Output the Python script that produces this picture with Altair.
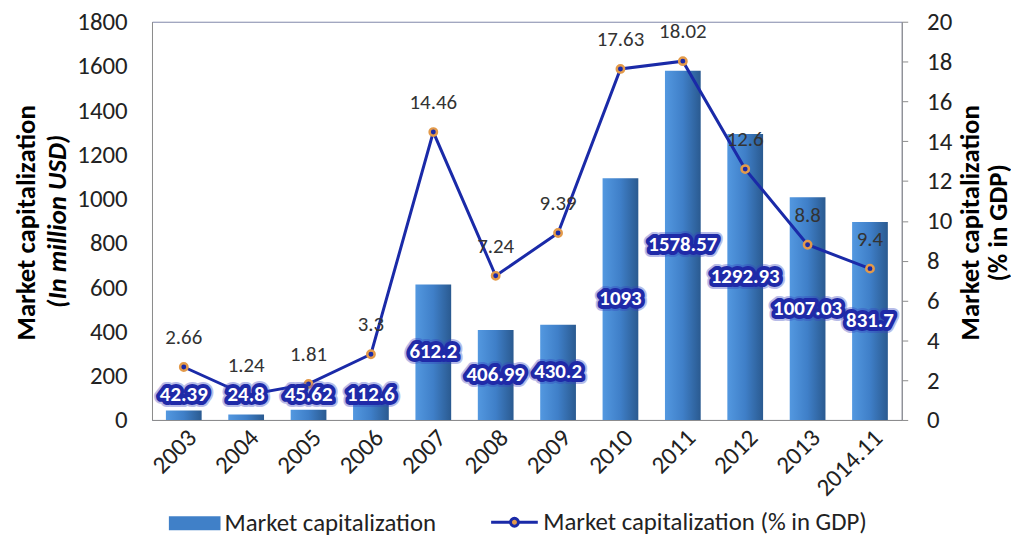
import altair as alt
import pandas as pd

years = ["2003", "2004", "2005", "2006", "2007", "2008", "2009", "2010", "2011", "2012", "2013", "2014.11"]
mcap = [42.39, 24.8, 45.62, 112.6, 612.2, 406.99, 430.2, 1093, 1578.57, 1292.93, 1007.03, 895]
mcap_labels = ["42.39", "24.8", "45.62", "112.6", "612.2", "406.99", "430.2", "1093", "1578.57", "1292.93", "1007.03", "831.7"]
gdp = [2.66, 1.24, 1.81, 3.3, 14.46, 7.24, 9.39, 17.63, 18.02, 12.6, 8.8, 7.6]
gdp_labels = ["2.66", "1.24", "1.81", "3.3", "14.46", "7.24", "9.39", "17.63", "18.02", "12.6", "8.8", "9.4"]
left_ticks = [0, 200, 400, 600, 800, 1000, 1200, 1400, 1600, 1800]
right_ticks = [0, 2, 4, 6, 8, 10, 12, 14, 16, 18, 20]

df = pd.DataFrame({
    "year": years, "mcap": mcap, "mcap_label": mcap_labels,
    "gdp": gdp, "gdp_label": gdp_labels,
})

FONT = "Carlito, Liberation Sans, sans-serif"
W, H = 755, 401

x = alt.X("year:N", sort=years,
          scale=alt.Scale(paddingInner=0.427, paddingOuter=0.223),
          axis=alt.Axis(title=None, labelAngle=315, labelFontSize=25, ticks=False,
                        domainColor="#8c8c8c", labelPadding=5, labelColor="#222"))

yl_scale = alt.Scale(domain=[0, 1800])
yl_axis = alt.Axis(values=left_ticks, format="d", ticks=False, labelPadding=25, labelFontSize=25,
                   labelColor="#222", domainColor="#8c8c8c", grid=False,
                   title="Market capitalization", titleFontSize=27, titleFontWeight="bold",
                   titleColor="#000", titleAngle=270, titleX=-126, titleY=202,
                   titleAlign="center", titleBaseline="middle")

grad = alt.Gradient(gradient="linear", x1=0, x2=1, y1=0, y2=0,
                    stops=[alt.GradientStop(color="#5398e0", offset=0),
                           alt.GradientStop(color="#3f7fc8", offset=0.5),
                           alt.GradientStop(color="#2a5a90", offset=1)])

base = alt.Chart(df)

bars = base.mark_bar(color=grad).encode(
    x=x, y=alt.Y("mcap:Q", scale=yl_scale, axis=yl_axis))

bar_legend = base.transform_calculate(s="'Market capitalization'").mark_bar(opacity=0).encode(
    x=x, y=alt.Y("mcap:Q", scale=yl_scale, axis=yl_axis),
    fill=alt.Fill("s:N", scale=alt.Scale(range=["#4080c8"]),
                  legend=alt.Legend(title=None, orient="none", legendX=17, legendY=479,
                                    symbolType="M-1,-0.27H1V0.27H-1Z", symbolSize=2704,
                                    symbolOpacity=1, symbolStrokeWidth=0, labelLimit=0,
                                    labelFontSize=25, labelColor="#222", labelFont=FONT)))

sub_title = alt.Chart(pd.DataFrame({"t": ["(In million USD)"]})).mark_text(
    angle=270, fontSize=27, fontWeight="bold", fontStyle="italic", font=FONT,
    color="#000", align="center", baseline="middle").encode(
    x=alt.value(-95), y=alt.value(201), text="t:N")

left = alt.layer(bars, bar_legend, sub_title)

yr_scale = alt.Scale(domain=[0, 20])
yr_axis = alt.Axis(orient="right", values=right_ticks, ticks=True, tickSize=6,
                   tickColor="#8c8c8c", domainColor="#8c8c8c", labelPadding=19,
                   labelFontSize=25, labelColor="#222", grid=False,
                   title=["Market capitalization", "(% in GDP)"], titleFontSize=27,
                   titleFontWeight="bold", titleColor="#000", titleAngle=270,
                   titleX=69, titleY=202, titleAlign="center", titleBaseline="middle",
                   titleLineHeight=28)

rbase = alt.Chart(df).transform_calculate(s2="'Market capitalization (% in GDP)'")
line = rbase.mark_line(strokeWidth=3).encode(
    x=x, y=alt.Y("gdp:Q", scale=yr_scale, axis=yr_axis),
    stroke=alt.Stroke("s2:N", scale=alt.Scale(range=["#1a2aa8"]),
                      legend=alt.Legend(title=None, orient="none", legendX=340, legendY=479,
                                        symbolType="M-1,0H-0.17M0.17,0H1M0.17,0A0.17,0.17 0 1 1 -0.17,0A0.17,0.17 0 1 1 0.17,0",
                                        symbolSize=2209, symbolStrokeWidth=3, labelLimit=0,
                                        symbolFillColor="#e39a4a",
                                        labelFontSize=25, labelColor="#222", labelFont=FONT)))
pts = rbase.mark_point(filled=True, fill="#1a2aa8", stroke="#e39a4a", strokeWidth=2.5,
                       size=55, opacity=1).encode(
    x=x, y=alt.Y("gdp:Q", scale=yr_scale, axis=yr_axis))
line_text = rbase.mark_text(dy=-29, fontSize=21, font=FONT, color="#333").encode(
    x=x, y=alt.Y("gdp:Q", scale=yr_scale, axis=yr_axis), text="gdp_label:N")

right = alt.layer(line, pts, line_text)

# bar value labels drawn on top of the line
lab = base.transform_calculate(label_y="max(datum.mcap / 2, 112)")
ylab = alt.Y("label_y:Q", scale=yl_scale, axis=None)
glow1 = lab.mark_text(fontSize=21, fontWeight="bold", font=FONT, stroke="#3442c0",
                      strokeWidth=12, strokeJoin="round", opacity=0.35, fill="#3442c0").encode(
    x=x, y=ylab, text="mcap_label:N")
glow2 = lab.mark_text(fontSize=21, fontWeight="bold", font=FONT, stroke="#1f2aa8",
                      strokeWidth=8, strokeJoin="round", fill="#1f2aa8").encode(
    x=x, y=ylab, text="mcap_label:N")
bar_text = lab.mark_text(fontSize=21, fontWeight="bold", font=FONT, color="white").encode(
    x=x, y=ylab, text="mcap_label:N")
labels = alt.layer(glow1, glow2, bar_text)

chart = alt.layer(left, right, labels).resolve_scale(y="independent").properties(
    width=W, height=H,
    autosize=alt.AutoSizeParams(type="none"),
    padding={"left": 145, "top": 12, "right": 110, "bottom": 115},
).configure(font=FONT).configure_view(stroke="#7f86a8", strokeWidth=1)

chart.save("out.html", embed_options={"renderer": "svg", "actions": False})
